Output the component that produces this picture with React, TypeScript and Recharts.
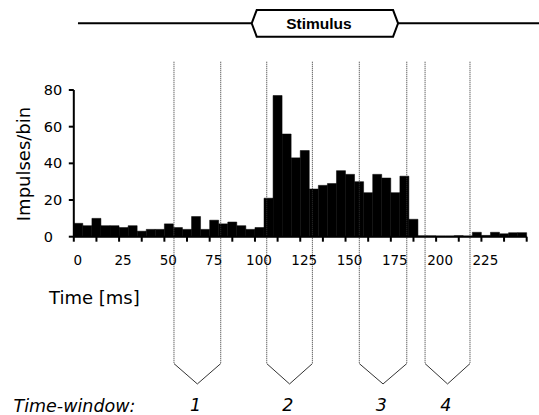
import {
  BarChart,
  Bar,
  XAxis,
  YAxis,
  ReferenceLine,
  ReferenceArea,
  ReferenceDot,
} from "recharts";

// 5 ms bins, start of each bin (ms)
const binStarts = [
  0, 5, 10, 15, 20, 25, 30, 35, 40, 45, 50, 55, 60, 65, 70, 75, 80, 85, 90, 95,
  100, 105, 110, 115, 120, 125, 130, 135, 140, 145, 150, 155, 160, 165, 170,
  175, 180, 185, 190, 195, 200, 205, 210, 215, 220, 225, 230, 235, 240, 245,
];
const impulses = [
  7.3, 6, 10, 6, 6, 5, 6, 3, 4, 4, 7, 5, 4, 11, 4, 9, 7, 8, 6, 4,
  5, 21, 77, 56, 43, 47, 26, 28, 29, 36, 34, 30, 24, 34, 32, 24, 33, 9.5, 0.5, 0.5,
  0.4, 0.4, 0.6, 0.4, 2.4, 0.7, 2.4, 1.6, 2.2, 2.2,
];

const xTicks = [
  0, 12.5, 25, 37.5, 50, 62.5, 75, 87.5, 100, 112.5, 125, 137.5, 150, 162.5,
  175, 187.5, 200, 212.5, 225, 237.5, 250,
];
const xTickLabels = [0, 25, 50, 75, 100, 125, 150, 175, 200, 225];
const yTicks = [0, 20, 40, 60, 80];

// time windows (ms)
const windowStarts = [55.3, 106.5, 157.6, 193.9];
const windowEnds = [81.1, 131.7, 183.8, 218.7];
const windowNames = ["1", "2", "3", "4"];

// stimulus (ms)
const stimulusOn = 98.2;
const stimulusOff = 179;

// decoration levels in y units (outside the 0-80 domain)
const LINE_TOP = 95.4;
const LINE_BOTTOM = -69.2;
const CHEVRON_TIP = -80.3;
const NUMBER_Y = -92;
const STIM_Y = 116.4;
const STIM_TOP = 123.6;
const STIM_BOTTOM = 109.1;

const FONT = "DejaVu Sans, Verdana, sans-serif";

const data = binStarts.map((t, i) => ({ t: t + 2.5, n: impulses[i] }));

const YTick = (props: any) => {
  const { x, y, payload } = props;
  return (
    <text x={x - 23} y={y + 5} textAnchor="start" fontFamily={FONT} fontSize={14.5} fill="#000">
      {payload.value}
    </text>
  );
};

const StimulusShape = (p: any) => {
  const { x, y, width, height } = p;
  const inset = 5;
  const mid = y + height / 2;
  const d = `M${x},${mid} L${x + inset},${y} L${x + width - inset},${y} L${x + width},${mid} L${x + width - inset},${y + height} L${x + inset},${y + height} Z`;
  return (
    <g>
      <path d={d} fill="#fff" stroke="#000" strokeWidth={2} />
      <text
        x={x + width / 2 - 6}
        y={mid + 5.5}
        textAnchor="middle"
        fontFamily="Liberation Sans, Arial, sans-serif"
        fontWeight="bold"
        fontSize={15.5}
        fill="#000"
      >
        Stimulus
      </text>
    </g>
  );
};

export default function App() {
  return (
    <div style={{ position: "absolute", left: 0, top: 0, width: 539, height: 415, background: "#fff" }}>
      <BarChart
        width={539}
        height={415}
        data={data}
        margin={{ top: 90, right: 12.3, left: 13.8, bottom: 148.3 }}
        barCategoryGap={0}
        barGap={0}
      >
        <XAxis
          dataKey="t"
          type="number"
          domain={[0, 250]}
          ticks={xTicks}
          interval={0}
          height={30}
          tickFormatter={(v: number) => (xTickLabels.includes(v) ? String(v) : "")}
          tick={{ fontSize: 13.5, fill: "#000", fontFamily: FONT, dx: 4 }}
          tickSize={5}
          tickMargin={14}
          axisLine={{ stroke: "#000", strokeWidth: 2 }}
          tickLine={{ stroke: "#000", strokeWidth: 2 }}
        />
        <YAxis
          domain={[0, 80]}
          ticks={yTicks}
          width={60}
          interval={0}
          tick={YTick}
          tickSize={5}
          tickMargin={2}
          axisLine={{ stroke: "#000", strokeWidth: 2 }}
          tickLine={{ stroke: "#000", strokeWidth: 2 }}
        />

        {windowStarts.map((s, i) => (
          <ReferenceLine
            key={`ws${i}`}
            ifOverflow="visible"
            segment={[{ x: s, y: LINE_TOP }, { x: s, y: LINE_BOTTOM }]}
            stroke="#333"
            strokeWidth={1}
            strokeDasharray="1 1"
          />
        ))}
        {windowEnds.map((e, i) => (
          <ReferenceLine
            key={`we${i}`}
            ifOverflow="visible"
            segment={[{ x: e, y: LINE_TOP }, { x: e, y: LINE_BOTTOM }]}
            stroke="#333"
            strokeWidth={1}
            strokeDasharray="1 1"
          />
        ))}

        <Bar
          dataKey="n"
          fill="#000"
          stroke="#000"
          strokeWidth={0.5}
          isAnimationActive={false}
        />

        {windowStarts.map((s, i) => (
          <ReferenceLine
            key={`cl${i}`}
            ifOverflow="visible"
            segment={[{ x: s, y: LINE_BOTTOM }, { x: (s + windowEnds[i]) / 2, y: CHEVRON_TIP }]}
            stroke="#333"
            strokeWidth={1}
          />
        ))}
        {windowEnds.map((e, i) => (
          <ReferenceLine
            key={`cr${i}`}
            ifOverflow="visible"
            segment={[{ x: e, y: LINE_BOTTOM }, { x: (windowStarts[i] + e) / 2, y: CHEVRON_TIP }]}
            stroke="#333"
            strokeWidth={1}
          />
        ))}
        {windowNames.map((name, i) => (
          <ReferenceDot
            key={`wn${i}`}
            ifOverflow="visible"
            x={(windowStarts[i] + windowEnds[i]) / 2 - 1}
            y={NUMBER_Y}
            r={0}
            shape={(p: any) => (
              <text
                x={p.cx}
                y={p.cy + 6}
                textAnchor="middle"
                fontFamily={FONT}
                fontStyle="italic"
                fontSize={17.5}
                fill="#000"
              >
                {name}
              </text>
            )}
          />
        ))}

        <ReferenceLine
          ifOverflow="visible"
          segment={[{ x: 2.3, y: STIM_Y }, { x: stimulusOn, y: STIM_Y }]}
          stroke="#000"
          strokeWidth={2}
        />
        <ReferenceLine
          ifOverflow="visible"
          segment={[{ x: stimulusOff, y: STIM_Y }, { x: 262, y: STIM_Y }]}
          stroke="#000"
          strokeWidth={2}
        />
        <ReferenceArea
          ifOverflow="visible"
          x1={stimulusOn}
          x2={stimulusOff}
          y1={STIM_BOTTOM}
          y2={STIM_TOP}
          shape={StimulusShape}
        />
      </BarChart>

      <svg
        width={539}
        height={415}
        style={{ position: "absolute", left: 0, top: 0, pointerEvents: "none" }}
      >
        <text
          transform="translate(30,164) rotate(-90)"
          textAnchor="middle"
          fontFamily={FONT}
          fontSize={18}
          fill="#000"
        >
          Impulses/bin
        </text>
        <text x={49} y={303.5} fontFamily={FONT} fontSize={18} fill="#000">
          Time [ms]
        </text>
        <text x={13.5} y={411.5} fontFamily={FONT} fontSize={17.5} fontStyle="italic" fill="#000">
          Time-window:
        </text>
      </svg>
    </div>
  );
}
